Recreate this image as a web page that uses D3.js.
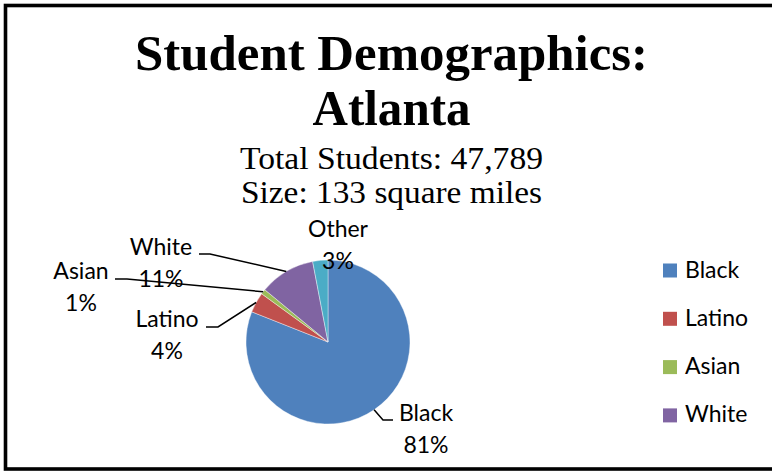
<!DOCTYPE html>
<html>
<head>
<meta charset="utf-8">
<script src="https://cdn.jsdelivr.net/npm/d3@7"></script>
<style>
  html, body { margin: 0; padding: 0; background: #fff; }
  svg { display: block; }
</style>
</head>
<body>
<svg id="chart" width="772" height="471"></svg>
<script>
/* 数据 */
var categories = ["Black", "Latino", "Asian", "White", "Other"];
var percents   = [81, 4, 1, 11, 3];
var colors     = ["#4F81BD", "#C0504D", "#9BBB59", "#8064A2", "#4BACC6"];
var titleLines = ["Student Demographics:", "Atlanta"];
var subLines   = ["Total Students: 47,789", "Size: 133 square miles"];
// legend in the original only had room for the first four entries
var legendCount = 4;

var svg = d3.select("#chart"),
    w = +svg.attr("width"),
    h = +svg.attr("height");

svg.append("rect").attr("width", w).attr("height", h).attr("fill", "#fff");

/* 边框 (right side runs off the picture) */
svg.append("rect")
    .attr("x", 5.5).attr("y", 5.5)
    .attr("width", w + 20).attr("height", 463.5)
    .attr("fill", "none").attr("stroke", "#000").attr("stroke-width", 3.6);

/* 标题 */
var cx = 391.5;
svg.selectAll(".title").data(titleLines).enter().append("text")
    .attr("class", "title")
    .attr("x", cx)
    .attr("y", function(d, i) { return 70 + i * 55; })
    .attr("text-anchor", "middle")
    .attr("textLength", function(d, i) { return i ? 158 : 513; })
    .attr("lengthAdjust", "spacingAndGlyphs")
    .style("font-family", "'Liberation Serif', 'DejaVu Serif', serif")
    .style("font-weight", "bold")
    .style("font-size", "50px")
    .text(function(d) { return d; });

svg.selectAll(".sub").data(subLines).enter().append("text")
    .attr("class", "sub")
    .attr("x", cx)
    .attr("y", function(d, i) { return 169 + i * 34; })
    .attr("text-anchor", "middle")
    .attr("textLength", function(d, i) { return i ? 301 : 303; })
    .attr("lengthAdjust", "spacingAndGlyphs")
    .style("font-family", "'Liberation Serif', 'DejaVu Serif', serif")
    .style("font-size", "32px")
    .text(function(d) { return d; });

/* 饼图 */
var data = categories.map(function(c, i) { return {name: c, v: percents[i], color: colors[i]}; });
var pc = {x: 328, y: 342}, r = 82;
var pie = d3.pie().sort(null).value(function(d) { return d.v; });
var arcs = pie(data);
var arc = d3.arc().innerRadius(0).outerRadius(r);
var edge = d3.arc().innerRadius(r).outerRadius(r);

var g = svg.append("g").attr("transform", "translate(" + pc.x + "," + pc.y + ")");
g.selectAll("path").data(arcs).enter().append("path")
    .attr("d", arc)
    .attr("fill", function(d) { return d.data.color; })
    .attr("stroke", "#fff").attr("stroke-width", 0.4);

/* 数据标签 – placement as Excel put them (label centre x, first baseline, elbow of leader) */
var labelPos = [
  {x: 426, y: 421, elbow: [383, 420], end: [393, 420]},
  {x: 167, y: 327, elbow: [218, 327], end: [206, 327]},
  {x: 81,  y: 279, elbow: [127, 279], end: [115, 279]},
  {x: 161, y: 255, elbow: [210, 254], end: [199, 254]},
  {x: 338, y: 237, elbow: null}
];

arcs.forEach(function(a, i) {
  var p = labelPos[i];
  if (p.elbow) {
    var c = edge.centroid(a);
    var pts = [[c[0] + pc.x, c[1] + pc.y], p.elbow, p.end];
    svg.append("path")
        .attr("d", d3.line()(pts))
        .attr("fill", "none").attr("stroke", "#000").attr("stroke-width", 1.5);
  }
  var t = svg.append("text")
      .attr("text-anchor", "middle")
      .style("font-family", "Lato, 'Open Sans', sans-serif")
      .style("font-size", "23px")
      .attr("fill", "#000");
  t.append("tspan").attr("x", p.x).attr("y", p.y).text(a.data.name);
  t.append("tspan").attr("x", p.x).attr("y", p.y + 32).text(a.data.v + "%");
});

/* 图例 */
var leg = svg.append("g").selectAll("g")
    .data(data.slice(0, legendCount))
    .enter().append("g")
    .attr("transform", function(d, i) { return "translate(663," + (263.5 + i * 48.3) + ")"; });
leg.append("rect").attr("width", 14).attr("height", 14)
    .attr("fill", function(d) { return d.color; });
leg.append("text")
    .attr("x", 22).attr("y", 14)
    .style("font-family", "Lato, 'Open Sans', sans-serif")
    .style("font-size", "23px")
    .text(function(d) { return d.name; });
</script>
</body>
</html>
